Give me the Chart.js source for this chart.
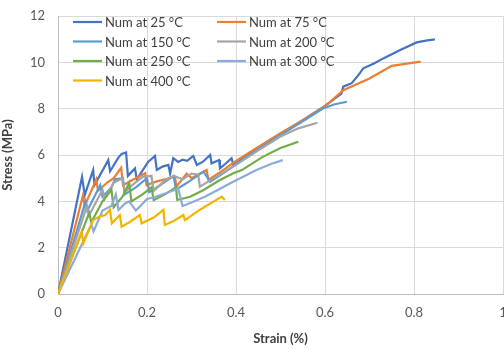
<!DOCTYPE html>
<html>
<head>
<meta charset="utf-8">
<script src="https://cdn.jsdelivr.net/npm/chart.js@4"></script>
<style>
  html, body { margin: 0; padding: 0; background: #fff; }
  #wrap { width: 504px; height: 349px; }
</style>
</head>
<body>
<div id="wrap"><canvas id="c" width="504" height="349"></canvas></div>
<script>
// strain (%) and stress (MPa)
const strain25 = [0, 0.054, 0.060, 0.079, 0.082, 0.113, 0.117, 0.136, 0.143, 0.153, 0.157, 0.173, 0.177, 0.203, 0.218, 0.222, 0.235, 0.248, 0.252, 0.259, 0.27, 0.28, 0.29, 0.304, 0.312, 0.325, 0.342, 0.345, 0.362, 0.364, 0.375, 0.390, 0.394, 0.42, 0.46, 0.50, 0.55, 0.60, 0.637, 0.641, 0.66, 0.675, 0.686, 0.71, 0.731, 0.769, 0.806, 0.83, 0.847];
const stress25 = [0, 5.06, 4.27, 5.35, 4.7, 5.78, 5.3, 5.9, 6.05, 6.11, 5.1, 5.42, 4.95, 5.71, 5.96, 5.35, 5.5, 5.57, 5.2, 5.86, 5.7, 5.8, 5.75, 5.96, 5.57, 5.7, 6.0, 5.64, 5.78, 5.42, 5.6, 5.86, 5.57, 5.9, 6.4, 6.9, 7.5, 8.12, 8.65, 8.95, 9.1, 9.45, 9.74, 9.95, 10.17, 10.53, 10.86, 10.95, 10.99];

const strain75 = [0, 0.056, 0.060, 0.086, 0.090, 0.11, 0.125, 0.142, 0.146, 0.165, 0.196, 0.199, 0.22, 0.263, 0.266, 0.289, 0.30, 0.334, 0.338, 0.36, 0.40, 0.45, 0.50, 0.55, 0.60, 0.641, 0.70, 0.75, 0.78, 0.815];
const stress75 = [0, 4.25, 3.8, 4.95, 4.45, 4.8, 5.0, 5.45, 4.7, 4.9, 5.21, 4.7, 4.85, 5.06, 4.63, 5.2, 5.0, 5.35, 4.92, 5.2, 5.75, 6.35, 6.94, 7.5, 8.1, 8.8, 9.3, 9.85, 9.93, 10.03];

const strain150 = [0, 0.062, 0.066, 0.095, 0.10, 0.12, 0.128, 0.146, 0.15, 0.175, 0.20, 0.205, 0.23, 0.26, 0.265, 0.29, 0.327, 0.342, 0.37, 0.40, 0.45, 0.50, 0.55, 0.596, 0.62, 0.649];
const stress150 = [0, 4.0, 3.6, 4.7, 4.2, 4.6, 4.95, 5.0, 4.3, 4.6, 5.0, 4.4, 4.7, 5.1, 4.5, 4.8, 5.28, 4.85, 5.2, 5.6, 6.25, 6.86, 7.45, 8.01, 8.18, 8.3];

const strain200 = [0, 0.065, 0.07, 0.10, 0.105, 0.125, 0.145, 0.15, 0.17, 0.19, 0.21, 0.215, 0.24, 0.26, 0.28, 0.30, 0.315, 0.319, 0.35, 0.394, 0.45, 0.499, 0.54, 0.583];
const stress200 = [0, 3.8, 3.4, 4.5, 4.1, 4.8, 5.0, 4.4, 4.75, 5.05, 5.1, 4.45, 4.9, 5.1, 4.95, 5.2, 5.15, 4.63, 5.0, 5.5, 6.2, 6.79, 7.15, 7.39];

const strain250 = [0, 0.07, 0.075, 0.10, 0.12, 0.125, 0.145, 0.16, 0.165, 0.19, 0.21, 0.215, 0.24, 0.265, 0.268, 0.297, 0.327, 0.364, 0.394, 0.413, 0.461, 0.50, 0.54];
const stress250 = [0, 3.5, 3.1, 4.0, 4.5, 3.75, 4.2, 4.8, 4.0, 4.3, 4.6, 4.05, 4.3, 4.6, 4.06, 4.2, 4.49, 4.92, 5.21, 5.35, 5.93, 6.3, 6.57];

const strain300 = [0, 0.075, 0.08, 0.10, 0.12, 0.13, 0.136, 0.15, 0.16, 0.175, 0.19, 0.20, 0.22, 0.25, 0.27, 0.28, 0.30, 0.33, 0.36, 0.387, 0.446, 0.48, 0.505];
const stress300 = [0, 3.0, 2.7, 3.6, 3.8, 4.3, 3.63, 3.9, 4.0, 3.6, 3.9, 4.1, 4.2, 4.4, 4.55, 3.8, 3.95, 4.2, 4.5, 4.78, 5.35, 5.62, 5.78];

const strain400 = [0, 0.053, 0.057, 0.079, 0.094, 0.106, 0.117, 0.121, 0.139, 0.143, 0.162, 0.184, 0.188, 0.215, 0.237, 0.240, 0.26, 0.282, 0.285, 0.32, 0.35, 0.368, 0.375];
const stress400 = [0, 2.69, 2.19, 3.19, 3.34, 3.41, 3.63, 3.05, 3.41, 2.9, 3.12, 3.41, 3.05, 3.3, 3.63, 2.98, 3.15, 3.41, 3.19, 3.65, 4.0, 4.2, 4.06];

const seriesNames = ['Num at 25 °C', 'Num at 75 °C', 'Num at 150 °C', 'Num at 200 °C', 'Num at 250 °C', 'Num at 300 °C', 'Num at 400 °C'];
const strainSets = [strain25, strain75, strain150, strain200, strain250, strain300, strain400];
const stressSets = [stress25, stress75, stress150, stress200, stress250, stress300, stress400];
const colors = ['#4472C4', '#ED7D31', '#5B9BD5', '#A5A5A5', '#70AD47', '#8EA9DB', '#F2B400'];

const datasets = seriesNames.map((name, i) => ({
    label: name,
    data: strainSets[i].map((x, j) => ({ x: x, y: stressSets[i][j] })),
    borderColor: colors[i],
    backgroundColor: colors[i],
    borderWidth: 2.2,
    pointRadius: 0,
    showLine: true,
    tension: 0,
    order: seriesNames.length - i
}));

// legend inside the plot, two columns like the original
const insideLegend = {
    id: 'insideLegend',
    afterDraw(chart) {
        const ctx = chart.ctx;
        ctx.save();
        ctx.font = '13px Lato, "Open Sans", sans-serif';
        ctx.textBaseline = 'middle';
        ctx.fillStyle = '#404040';
        chart.data.datasets.forEach((ds, i) => {
            const col = i % 2, row = Math.floor(i / 2);
            const x0 = col === 0 ? 73 : 217;
            const y = 22 + row * 19.5;
            ctx.strokeStyle = ds.borderColor;
            ctx.lineWidth = 2.2;
            ctx.beginPath();
            ctx.moveTo(x0, y);
            ctx.lineTo(x0 + 29, y);
            ctx.stroke();
            ctx.fillText(ds.label, x0 + 32, y + 1);
        });
        ctx.restore();
    }
};

new Chart(document.getElementById('c'), {
    type: 'scatter',
    data: { datasets: datasets },
    plugins: [insideLegend],
    options: {
        responsive: false,
        animation: false,
        layout: { padding: { top: 16, right: 1, left: 0, bottom: 0 } },
        plugins: { legend: { display: false }, tooltip: { enabled: false } },
        scales: {
            x: {
                type: 'linear', min: 0, max: 1,
                ticks: { stepSize: 0.2, color: '#595959', font: { family: 'Lato', size: 13 }, padding: 11,
                         callback: v => Math.round(v * 10) / 10 },
                grid: { color: '#D9D9D9', drawTicks: false },
                border: { color: '#BFBFBF' },
                title: { display: true, text: 'Strain (%)', color: '#404040', font: { family: 'Lato', size: 13, weight: 'bold' }, padding: { top: 4, bottom: 2 } },
                afterFit: s => { s.height = 55; s.paddingLeft = 0; s.paddingRight = 0; }
            },
            y: {
                min: 0, max: 12,
                ticks: { stepSize: 2, color: '#595959', font: { family: 'Lato', size: 13 }, padding: 13 },
                grid: { color: '#D9D9D9', drawTicks: false },
                border: { color: '#BFBFBF' },
                title: { display: true, text: 'Stress (MPa)', color: '#404040', font: { family: 'Lato', size: 13, weight: 'bold' }, padding: { top: 0, bottom: 2 } },
                afterFit: s => { s.width = 58; s.paddingTop = 0; s.paddingBottom = 0; }
            }
        }
    }
});
</script>
</body>
</html>
